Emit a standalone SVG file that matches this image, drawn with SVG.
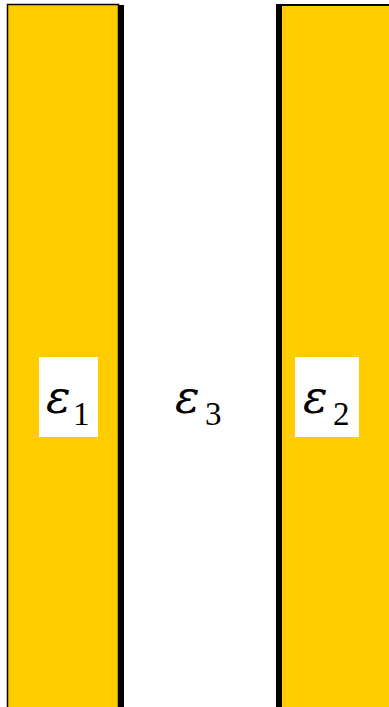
<svg xmlns="http://www.w3.org/2000/svg" width="389" height="707" viewBox="0 0 389 707">
<style>
.plate{fill:#FFCC00}
.lbl{fill:#FFFFFF}
.eps{font-family:"DejaVu Serif",serif;font-style:italic;font-size:46px;fill:#000}
.sub{font-family:"Liberation Serif","Times New Roman",serif;font-size:33px;fill:#000}
</style>
<rect width="389" height="707" fill="#FFFFFF"/>
<g id="plate1">
<rect x="118" y="5" width="6" height="702" fill="#000"/>
<rect class="plate" x="7.5" y="4.5" width="111" height="710" stroke="#000" stroke-width="1.5"/>
</g>
<g id="plate2">
<rect class="plate" x="276" y="4" width="120" height="710"/>
<rect x="276" y="4" width="6" height="703" fill="#000"/>
<rect x="276" y="4" width="113" height="2" fill="#000"/>
</g>
<g id="label1">
<rect class="lbl" x="39" y="357" width="59" height="80"/>
<text class="eps" x="46" y="413">ε</text>
<text class="sub" x="73" y="425">1</text>
</g>
<g id="label3">
<text class="eps" x="175" y="413">ε</text>
<text class="sub" x="205" y="425">3</text>
</g>
<g id="label2">
<rect class="lbl" x="295" y="357" width="64" height="80"/>
<text class="eps" x="303" y="413">ε</text>
<text class="sub" x="333" y="425">2</text>
</g>
</svg>
